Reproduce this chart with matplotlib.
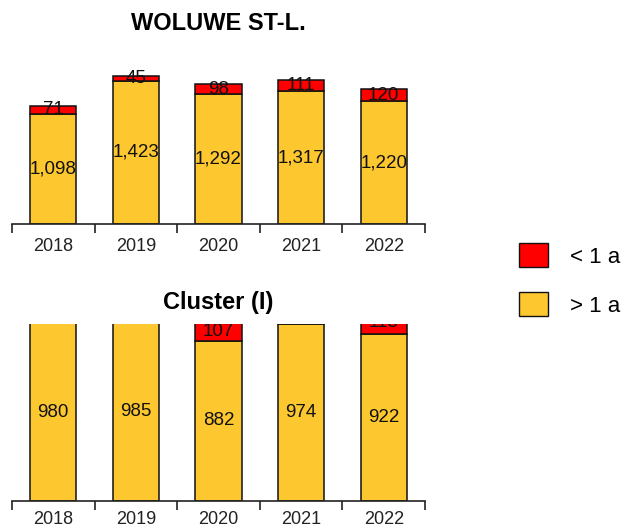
import matplotlib
matplotlib.use("Agg")
import matplotlib.pyplot as plt
from matplotlib.patches import Patch

years = ["2018", "2019", "2020", "2021", "2022"]
woluwe_over = [1098, 1423, 1292, 1317, 1220]
woluwe_under = [71, 45, 98, 111, 120]
cluster_over = [980, 985, 882, 974, 922]
cluster_under = [95, 98, 107, 104, 118]

YELLOW = "#FCC72F"
RED = "#FF0000"
plt.rcParams['font.family'] = ['Liberation Sans', 'DejaVu Sans']

fig = plt.figure(figsize=(6.28, 5.30), dpi=100)
W, H = 628, 530

def make_ax(top_px, bottom_px):
    return fig.add_axes([12 / W, 1 - bottom_px / H, 413 / W, (bottom_px - top_px) / H])

def draw(ax, over, under, ymax, title, title_y, pad):
    x = list(range(len(years)))
    ax.bar(x, over, width=0.56, color=YELLOW, edgecolor="#111111", linewidth=1.1, zorder=2)
    ax.bar(x, under, bottom=over, width=0.56, color=RED, edgecolor="#111111", linewidth=1.1, zorder=2)
    ax.set_xlim(-0.5, len(years) - 0.5)
    ax.set_ylim(0, ymax)
    for i in x:
        for val, base in ((over[i], 0), (under[i], over[i])):
            t = ax.text(i, base + val / 2, f"{val:,}", ha="center", va="center",
                        fontsize=13.5, color="#111111", clip_on=True, zorder=3)
            t.set_clip_box(ax.bbox)
    for s in ("top", "right", "left"):
        ax.spines[s].set_visible(False)
    ax.spines["bottom"].set_linewidth(1.2)
    ax.spines["bottom"].set_color("#222222")
    ax.set_yticks([])
    ax.set_xticks([i - 0.5 for i in range(len(years) + 1)])
    ax.set_xticklabels([])
    ax.tick_params(axis="x", which="major", length=6.5, width=1.2, color="#222222", direction="out")
    ax.set_xticks(x, minor=True)
    ax.set_xticklabels(years, minor=True)
    ax.tick_params(axis="x", which="minor", length=0, pad=pad, labelsize=13, labelcolor="#222222")
    fig.text(218 / W, 1 - title_y / H, title, ha="center", va="center",
             fontsize=17, fontweight="bold")

ax1 = make_ax(62, 224)
draw(ax1, woluwe_over, woluwe_under, 1610, "WOLUWE ST-L.", 24, 10)
ax2 = make_ax(324, 501)
draw(ax2, cluster_over, cluster_under, 975, "Cluster (I)", 303, 7.5)

handles = [Patch(facecolor=RED, edgecolor="#111111", linewidth=1.0),
           Patch(facecolor=YELLOW, edgecolor="#111111", linewidth=1.0)]
fig.legend(handles, ["< 1 a", "> 1 a"], loc="upper left",
           bbox_to_anchor=(519 / W, 1 - 243 / H), frameon=False, fontsize=16,
           handlelength=1.3, handleheight=1.3, handletextpad=1.0,
           labelspacing=1.1, borderpad=0, borderaxespad=0)

fig.savefig("out.png", dpi=100)
